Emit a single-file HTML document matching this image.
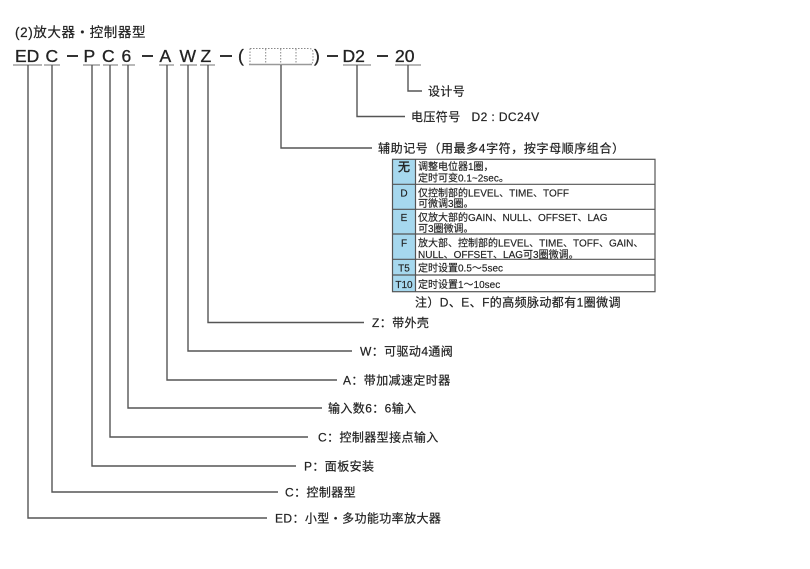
<!DOCTYPE html>
<html><head><meta charset="utf-8">
<style>
html,body{margin:0;padding:0;background:#fff;}
svg{display:block;}
text{font-family:"Liberation Sans","Noto Sans CJK SC",sans-serif;fill:#222;}
</style></head>
<body>
<svg width="810" height="569" viewBox="0 0 810 569" xmlns="http://www.w3.org/2000/svg">
<rect width="810" height="569" fill="#fff"/>
<!-- title -->
<text x="15" y="37" font-size="13.5" letter-spacing="0.6" stroke="#222" stroke-width="0.2">(2)放大器・控制器型</text>

<!-- code row -->
<g font-size="17.5" fill="#2a2a2a" stroke="#2a2a2a" stroke-width="0.35">
<text x="15" y="62">ED</text>
<text x="45.5" y="62">C</text>
<text x="83.5" y="62">P</text>
<text x="102" y="62">C</text>
<text x="121.5" y="62">6</text>
<text x="159.5" y="62">A</text>
<text x="179.5" y="62">W</text>
<text x="200.5" y="62">Z</text>
<text x="238" y="62">(</text>
<text x="314" y="62">)</text>
<text x="342.5" y="62">D2</text>
<text x="395" y="62">20</text>
</g>
<!-- dashes -->
<g fill="#333">
<rect x="67" y="55" width="11" height="2"/>
<rect x="142" y="55" width="11" height="2"/>
<rect x="220" y="55" width="12" height="2"/>
<rect x="327" y="55" width="11" height="2"/>
<rect x="377" y="55" width="11" height="2"/>
</g>
<!-- dotted box -->
<g stroke="#888" stroke-width="1" fill="none" stroke-dasharray="1.5,1.5">
<path d="M250,48.5 H309 Q313,48.5 313,53 V60 Q313,64.5 309,64.5"/>
<line x1="250" y1="48.5" x2="250" y2="64.5"/>
<line x1="265.7" y1="49" x2="265.7" y2="64"/>
<line x1="280.7" y1="49" x2="280.7" y2="64"/>
<line x1="296" y1="49" x2="296" y2="64"/>
</g>
<line x1="249" y1="64.5" x2="312" y2="64.5" stroke="#999" stroke-width="1.5"/>

<!-- underlines -->
<g stroke="#8a8a8a" stroke-width="1.2">
<line x1="13" y1="65" x2="42" y2="65"/>
<line x1="44" y1="65" x2="60" y2="65"/>
<line x1="83" y1="65" x2="100" y2="65"/>
<line x1="103" y1="65" x2="118" y2="65"/>
<line x1="122" y1="65" x2="135" y2="65"/>
<line x1="159" y1="65" x2="174" y2="65"/>
<line x1="180" y1="65" x2="197" y2="65"/>
<line x1="200" y1="65" x2="215" y2="65"/>
<line x1="343" y1="65" x2="371" y2="65"/>
<line x1="395" y1="65" x2="421" y2="65"/>
</g>

<!-- leader lines -->
<g stroke="#555" stroke-width="1.4" fill="none">
<polyline points="28,65 28,518 267,518"/>
<polyline points="52,65 52,492 278,492"/>
<polyline points="92,65 92,466 296,466"/>
<polyline points="110,65 110,437 308,437"/>
<polyline points="128,65 128,408 322,408"/>
<polyline points="167,65 167,380 337,380"/>
<polyline points="188,65 188,351 352,351"/>
<polyline points="208,65 208,322.5 364,322.5"/>
<polyline points="281,65 281,148 372,148"/>
<polyline points="357,65 357,116.5 405,116.5"/>
<polyline points="408,65 408,91 422,91"/>
</g>

<!-- labels -->
<g font-size="12" letter-spacing="0.4" stroke="#222" stroke-width="0.2">
<text x="428" y="95.5">设计号</text>
<text x="411" y="121">电压符号</text>
<text x="471.5" y="121">D2 : DC24V</text>
<text x="378" y="152.5" letter-spacing="0.6">辅助记号（用最多4字符，按字母顺序组合）</text>
<text x="415" y="306.5">注）D、E、F的高频脉动都有1圈微调</text>
<text x="372" y="327">Z：带外壳</text>
<text x="360" y="355.5">W：可驱动4通阀</text>
<text x="343" y="384.5">A：带加减速定时器</text>
<text x="328" y="412.5">输入数6：6输入</text>
<text x="318" y="441.5">C：控制器型接点输入</text>
<text x="304" y="470.5">P：面板安装</text>
<text x="285" y="496.5">C：控制器型</text>
<text x="275" y="522.5">ED：小型・多功能功率放大器</text>
</g>

<!-- table -->
<rect x="392.5" y="159.3" width="23" height="132.4" fill="#a6d8ee"/>
<g stroke="#555" stroke-width="1.2" fill="none">
<rect x="392.5" y="159.3" width="262.5" height="132.4"/>
<line x1="415.5" y1="159.3" x2="415.5" y2="291.7"/>
<line x1="392.5" y1="184.3" x2="655" y2="184.3"/>
<line x1="392.5" y1="209.3" x2="655" y2="209.3"/>
<line x1="392.5" y1="234" x2="655" y2="234"/>
<line x1="392.5" y1="259.3" x2="655" y2="259.3"/>
<line x1="392.5" y1="275" x2="655" y2="275"/>
</g>
<g font-size="10" stroke="#222" stroke-width="0.15">
<text x="418" y="170">调整电位器1圈，</text>
<text x="418" y="181.5">定时可变0.1~2sec。</text>
<text x="418" y="196.5">仅控制部的LEVEL、TIME、TOFF</text>
<text x="418" y="207">可微调3圈。</text>
<text x="418" y="221">仅放大部的GAIN、NULL、OFFSET、LAG</text>
<text x="418" y="232">可3圈微调。</text>
<text x="418" y="246.5">放大部、控制部的LEVEL、TIME、TOFF、GAIN、</text>
<text x="418" y="258">NULL、OFFSET、LAG可3圈微调。</text>
<text x="418" y="271.5">定时设置0.5～5sec</text>
<text x="418" y="288">定时设置1～10sec</text>
</g>
<g font-size="10" text-anchor="middle" stroke="#222" stroke-width="0.15">
<text x="404" y="171" font-size="12" stroke-width="0.4">无</text>
<text x="404" y="196.5">D</text>
<text x="404" y="221">E</text>
<text x="404" y="246.5">F</text>
<text x="404" y="271.5">T5</text>
<text x="404" y="288">T10</text>
</g>
</svg>
</body></html>
